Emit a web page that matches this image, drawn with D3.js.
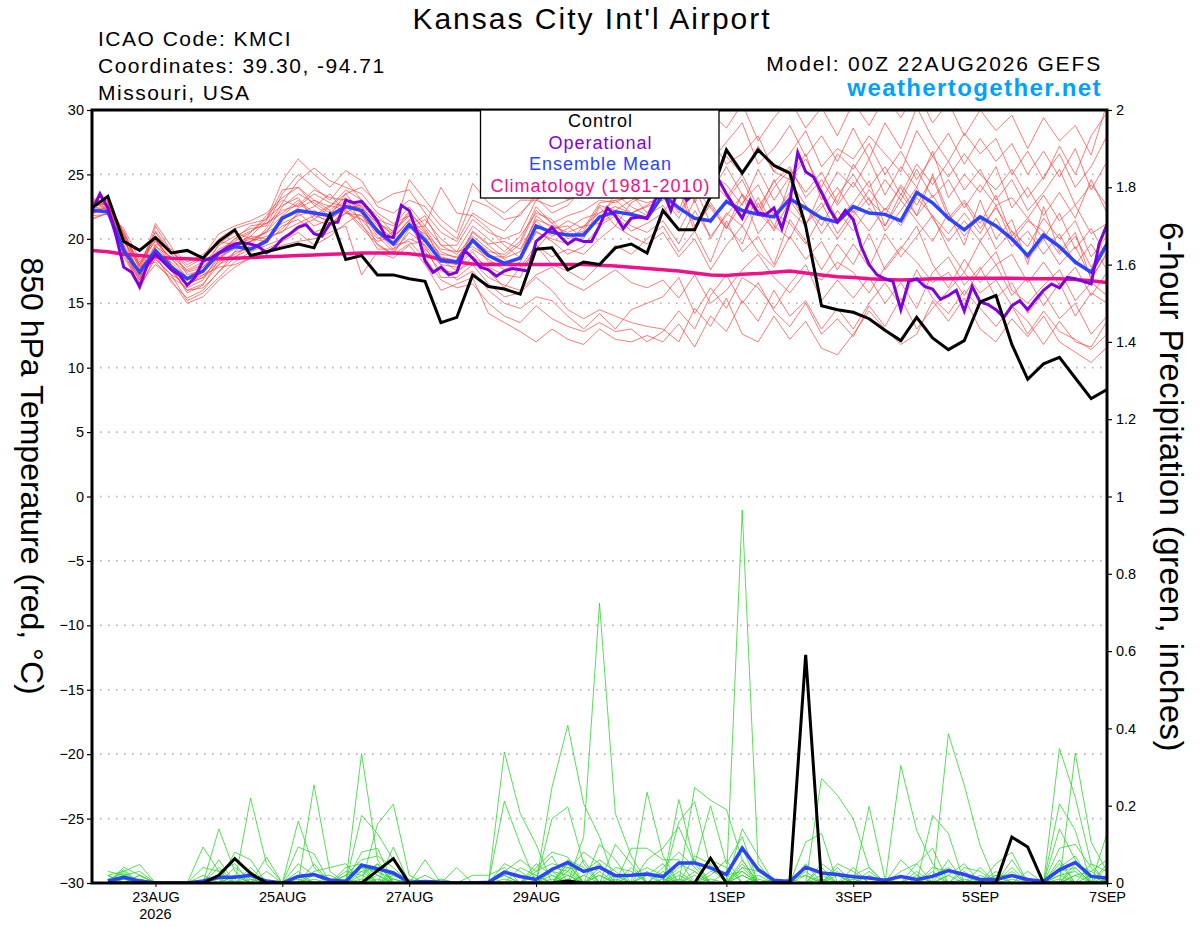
<!DOCTYPE html>
<html>
<head>
<meta charset="utf-8">
<script src="https://d3js.org/d3.v7.min.js"></script>
<style>
  body { margin: 0; background: #fff; }
  svg text { font-family: "Liberation Sans", Arial, Helvetica, sans-serif; }
</style>
</head>
<body>
<svg id="drawing_region"></svg>
<script>
// 6-hourly steps from 00Z 22AUG2026 (index 0) to 00Z 07SEP2026 (index 64)
const startTime = Date.UTC(2026, 7, 22, 0);
const stepHours = 6;

// x axis ticks
const dateTicks = ["2026-08-23", "2026-08-25", "2026-08-27", "2026-08-29", "2026-09-01", "2026-09-03", "2026-09-05", "2026-09-07"];
const dateLabels = ["23AUG", "25AUG", "27AUG", "29AUG", "1SEP", "3SEP", "5SEP", "7SEP"];
const tempTicks = [-30, -25, -20, -15, -10, -5, 0, 5, 10, 15, 20, 25, 30];
const precipTicks = [0, 0.2, 0.4, 0.6, 0.8, 1, 1.2, 1.4, 1.6, 1.8, 2];

const legendNames = ["Control", "Operational", "Ensemble Mean", "Climatology (1981-2010)"];
const legendColors = ["#000000", "#8000e0", "#2a44ff", "#f0118a"];

// 850 hPa temperature, control run (6-hourly)
const controlTemp = [
  22.4, 23.3, 19.8, 19.1, 20.1, 18.9, 19.1, 18.5, 19.8, 20.7, 18.7, 19.0,
  19.3, 19.6, 19.3, 21.9, 18.4, 18.7, 17.2, 17.2, 16.9, 16.7, 13.5, 13.9,
  17.2, 16.3, 16.1, 15.7, 19.2, 19.3, 17.6, 18.2, 18.0, 19.3, 19.6, 18.9,
  22.2, 20.7, 20.7, 23.3, 26.9, 25.1, 26.9, 25.7, 25.1, 21.0, 14.8, 14.5,
  14.3, 13.8, 12.9, 12.1, 13.9, 12.3, 11.4, 12.1, 15.1, 15.6, 11.8, 9.1,
  10.3, 10.8, 9.2, 7.6, 8.3
];

// operational run (3-hourly)
const operTemp = [
  22.2, 23.5, 22.4, 20.3, 17.8, 17.4, 16.3, 18.0, 18.8, 18.2, 17.6, 17.2,
  16.4, 17.0, 18.3, 18.5, 18.9, 19.3, 19.6, 19.7, 19.6, 19.4, 18.9, 19.3,
  20.0, 20.4, 20.9, 21.1, 20.4, 20.2, 21.2, 21.3, 23.0, 22.8, 22.9, 22.2,
  21.4, 20.2, 20.1, 22.6, 22.2, 20.5, 18.3, 17.4, 17.8, 17.2, 17.4, 19.1,
  18.5, 17.8, 17.6, 17.1, 17.5, 17.7, 17.6, 17.5, 19.8, 20.3, 20.9, 20.2,
  19.6, 20.0, 19.8, 19.8, 21.0, 22.4, 21.8, 20.8, 21.6, 21.7, 21.6, 23.0,
  23.8, 22.2, 24.0, 23.0, 23.5, 24.0, 25.1, 24.6, 23.5, 22.5, 21.6, 23.0,
  22.0, 21.9, 22.4, 20.8, 22.9, 26.7, 25.2, 24.8, 23.6, 22.3, 21.3, 22.2,
  21.5, 19.4, 18.0, 17.2, 16.9, 16.7, 14.5, 16.7, 16.9, 16.3, 16.1, 15.3,
  15.6, 16.0, 14.4, 16.3, 15.1, 14.9, 14.5, 13.9, 14.8, 15.2, 14.5, 15.3,
  16.0, 16.5, 16.2, 17.0, 16.9, 16.7, 16.5, 19.6, 21.1
];

const meanTemp = [
  22.2, 22.1, 19.1, 17.4, 19.1, 17.8, 16.9, 17.5, 18.9, 19.4, 19.2, 19.8,
  21.6, 22.2, 22.0, 21.8, 22.5, 22.2, 20.6, 19.6, 21.1, 19.9, 18.3, 18.2,
  19.9, 18.7, 18.1, 18.5, 21.0, 20.5, 20.3, 20.3, 21.7, 22.1, 21.9, 21.6,
  23.4, 22.4, 21.6, 21.4, 22.9, 22.2, 21.9, 21.7, 23.1, 22.4, 21.6, 21.3,
  22.5, 22.0, 21.9, 21.4, 23.6, 22.8, 21.6, 20.7, 21.7, 21.0, 20.0, 18.7,
  20.3, 19.4, 18.2, 17.4, 19.6
];

const climoTemp = [
  19.1, 19.0, 18.8, 18.7, 18.6, 18.5, 18.45, 18.4, 18.45, 18.5, 18.55, 18.6,
  18.65, 18.7, 18.75, 18.8, 18.85, 18.9, 18.9, 18.9, 18.85, 18.7, 18.4, 18.2,
  18.05, 18.0, 18.0, 18.0, 18.0, 18.0, 18.0, 18.0, 17.95, 17.9, 17.8, 17.7,
  17.6, 17.5, 17.35, 17.2, 17.15, 17.25, 17.3, 17.4, 17.5, 17.35, 17.2, 17.05,
  17.0, 16.9, 16.85, 16.8, 16.85, 16.9, 16.9, 16.95, 16.95, 16.95, 16.95, 16.9,
  16.9, 16.9, 16.85, 16.75, 16.6
];

// ensemble member temperatures (6-hourly)
const member01 = [22.0,22.5,20.0,17.0,19.5,18.0,16.5,17.0,18.5,19.5,20.0,20.5, 22.5,23.5,22.8,22.0,23.0,22.5,21.0,20.0,21.5,20.5,18.5,18.0, 20.5,19.5,18.5,19.0,21.5,21.0,20.5,21.0,22.0,22.5,22.0,22.5, 23.0,24.2,21.0,22.6,20.8,23.5,22.0,24.6,22.2,21.0,23.8,21.5, 22.8,24.5,21.0,23.5,21.8,25.0,22.0,19.5,23.0,20.0,21.5,18.0, 22.5,19.0,20.5,16.8,19.0];
const member02 = [22.8,23.0,19.0,16.2,18.5,17.2,15.2,15.8,17.0,18.2,19.0,19.5, 20.0,21.0,21.5,22.5,23.5,22.0,20.2,19.0,20.5,19.5,17.0,17.0, 18.0,16.5,15.5,15.8,17.0,16.0,14.5,13.8,14.5,14.0,13.5,13.2, 13.0,12.0,14.6,13.2,15.4,12.6,12.0,14.0,12.2,13.6,11.5,11.0, 12.6,14.4,13.0,11.8,12.6,15.2,13.6,15.4,13.0,12.0,13.8,12.4, 14.0,12.0,11.2,10.4,11.6];
const member03 = [21.6,22.0,20.5,18.0,20.5,18.8,17.5,18.0,19.5,20.2,20.8,21.0, 23.5,25.0,24.0,23.0,24.5,23.0,21.5,21.0,22.5,21.0,19.5,19.5, 21.5,20.5,20.0,20.5,23.0,22.5,23.0,23.5,24.0,25.5,25.0,26.0, 27.0,25.0,28.0,26.0,27.5,29.0,25.8,27.0,28.8,26.4,28.0,26.0, 28.6,26.2,29.0,27.0,30.2,27.8,26.0,28.2,26.6,27.8,25.0,26.8, 24.6,27.2,25.0,28.0,29.8];
const member04 = [23.0,22.2,19.5,17.5,19.0,17.5,16.0,16.5,18.0,19.0,19.2,20.0, 21.0,21.5,20.5,21.0,22.0,22.8,21.8,20.5,21.8,19.2,18.0,17.8, 19.0,17.5,16.2,17.8,19.5,18.0,17.5,16.8,18.0,19.5,18.8,20.0, 21.0,19.0,20.6,18.2,21.4,19.0,20.2,18.0,21.5,19.8,17.6,19.6, 18.0,20.4,17.6,19.2,21.0,18.0,16.2,18.4,16.6,18.0,15.6,17.0, 14.8,16.6,14.0,15.8,15.0];
const member05 = [22.2,22.8,18.8,16.8,21.0,19.0,17.8,18.5,20.0,20.8,21.2,21.5, 24.5,26.2,25.0,24.0,25.3,24.5,22.5,22.0,23.0,22.5,21.0,20.0, 23.0,22.5,21.5,21.8,23.5,24.0,23.0,24.5,25.5,26.8,26.0,27.0, 28.0,29.6,27.0,29.8,28.6,30.5,27.6,29.4,30.8,28.6,30.2,28.0, 30.6,28.8,31.0,29.4,31.5,29.0,30.6,28.0,30.0,28.4,29.6,27.0, 29.4,27.6,28.8,26.5,30.5];
const member06 = [21.8,21.9,19.8,17.8,18.2,16.8,15.0,15.5,16.8,17.8,18.5,19.0, 19.5,19.8,20.0,20.5,21.0,17.2,19.0,18.5,19.5,18.0,16.0,16.5, 17.0,14.2,13.5,12.8,12.0,13.0,12.2,11.8,13.0,12.2,12.0,12.5, 12.0,13.4,11.6,14.0,12.8,15.2,13.6,16.0,14.0,15.2,13.0,14.6, 13.0,15.0,16.6,14.8,17.6,15.4,14.2,16.0,14.6,13.2,14.8,12.6, 14.4,12.8,12.2,11.4,12.6];
const member07 = [22.5,23.2,20.2,18.2,19.8,18.5,17.0,17.8,19.2,19.8,20.5,21.8, 23.0,22.5,23.5,22.8,22.5,21.5,20.0,20.5,22.0,20.8,19.0,18.5, 20.0,19.0,18.8,19.8,22.5,21.2,21.8,22.2,23.0,22.8,23.5,22.0, 23.8,22.0,24.0,21.2,23.0,24.6,22.0,20.8,24.5,22.6,21.0,23.4, 25.0,23.0,21.8,24.2,22.6,24.8,21.6,23.0,21.2,23.4,20.2,21.6, 20.0,22.0,19.2,20.8,18.6];
const member08 = [23.2,22.6,18.6,16.5,18.0,17.0,16.2,16.8,18.8,20.0,21.0,21.2, 22.0,23.0,22.0,21.2,22.0,21.8,20.5,19.2,20.0,19.5,18.0,16.8, 17.5,16.0,15.0,14.6,15.5,15.2,14.0,13.0,14.2,13.0,14.5,15.0, 15.5,17.0,14.2,16.2,14.6,17.0,16.2,14.6,16.5,18.0,15.2,16.8, 15.4,17.0,15.0,16.6,14.6,17.4,18.6,16.4,17.8,15.4,16.6,14.2, 15.8,13.8,15.0,12.6,14.0];
const member09 = [22.0,22.3,19.2,17.2,19.6,19.2,18.2,18.8,19.8,19.5,19.8,20.2, 20.5,22.0,21.0,21.5,22.8,22.0,19.5,18.8,20.8,21.5,20.0,19.0, 21.0,20.0,19.0,20.2,22.0,21.5,20.0,20.5,21.5,23.5,22.5,21.8, 22.6,20.6,23.0,20.0,22.0,21.0,23.2,21.0,20.0,22.6,20.4,22.2, 20.6,22.4,21.0,23.0,21.4,19.8,22.0,20.2,21.8,19.2,20.6,18.4, 20.0,18.0,19.4,17.0,18.8];
const member10 = [21.5,22.0,20.8,18.4,20.0,17.8,16.4,17.2,18.2,18.8,19.5,20.8, 22.8,24.5,25.5,24.5,24.0,23.5,22.0,21.2,21.8,20.0,18.8,18.6, 19.8,18.2,18.0,18.6,21.8,20.8,21.0,20.0,22.5,21.0,22.8,23.5, 24.5,26.6,23.0,25.0,24.2,22.6,25.4,23.0,24.8,26.6,23.0,25.2, 24.0,26.2,23.4,25.6,24.0,26.8,23.2,25.0,23.6,25.6,22.4,24.0, 21.8,23.6,21.6,24.6,22.0];
const member11 = [22.4,22.9,19.6,16.0,18.8,16.6,15.4,16.0,17.5,18.5,19.8,20.5, 21.2,21.8,22.2,21.6,22.3,21.0,19.8,20.2,21.2,19.0,17.5,17.4, 18.6,17.8,17.2,17.0,19.5,18.6,19.2,18.8,20.0,21.0,20.2,19.6, 20.5,18.6,20.0,17.6,19.5,21.0,19.0,17.8,20.2,18.4,19.8,17.6, 19.6,17.8,20.4,18.6,20.2,21.8,19.2,17.4,19.8,18.0,18.8,16.6, 18.2,16.4,17.8,15.6,17.4];
const member12 = [22.9,23.1,20.4,17.6,21.2,19.4,17.2,17.6,18.6,19.2,20.2,21.4, 23.8,24.0,23.0,22.5,23.8,23.0,21.2,20.6,24.6,23.0,21.5,20.5, 24.3,22.8,22.0,23.0,23.0,23.8,24.0,23.6,24.8,24.0,25.2,24.5, 25.5,27.6,26.0,27.8,25.8,26.6,28.0,25.2,26.6,28.4,25.6,27.0, 26.2,28.0,26.6,25.2,28.4,26.4,28.2,25.8,27.8,26.0,27.4,25.0, 26.8,24.8,27.0,23.8,26.0];
const member13 = [22.1,22.4,19.0,17.0,18.6,18.2,17.0,17.5,19.6,20.5,20.0,19.8, 20.8,22.0,22.5,23.5,22.0,21.5,20.8,19.5,19.8,18.5,16.8,16.2, 16.5,15.0,14.0,13.5,14.8,13.8,13.2,12.8,13.5,12.8,13.0,12.0, 12.8,14.4,13.0,15.6,17.2,15.0,16.6,14.4,13.2,15.0,12.6,13.8, 12.4,14.8,13.2,15.4,13.0,14.6,16.0,17.4,15.8,16.8,14.8,13.6, 11.8,13.6,12.0,11.6,13.6];
const member14 = [22.6,22.0,19.9,18.0,20.2,18.0,16.8,17.2,17.8,18.0,18.5,19.2, 19.8,20.5,19.5,20.2,21.2,22.0,20.6,19.8,20.8,21.0,24.0,22.0, 21.8,20.8,19.5,18.5,20.5,20.0,19.6,21.0,21.2,22.0,21.0,20.5, 21.4,19.6,22.2,20.2,21.8,23.4,20.4,22.0,21.2,19.6,21.8,20.0, 21.8,23.2,20.6,22.2,24.0,21.6,19.8,21.4,19.8,21.6,19.4,20.6, 18.8,20.4,18.0,19.6,17.6];
const member15 = [21.9,22.6,20.6,17.8,19.0,17.6,16.0,16.2,17.4,19.0,20.5,21.6, 22.6,23.2,21.5,21.0,22.4,22.6,21.4,20.2,21.4,20.2,18.2,18.0, 19.2,18.4,17.6,18.2,20.6,19.8,18.8,19.4,21.0,21.8,20.6,21.2, 22.0,23.8,20.6,22.8,21.0,19.6,22.8,20.6,23.0,21.2,22.8,20.4, 22.2,20.6,22.4,21.0,23.2,21.8,20.4,22.0,20.4,22.6,19.8,21.4, 20.6,18.8,20.2,17.8,19.8];
const member16 = [22.7,23.0,19.4,16.6,19.4,18.6,17.6,18.2,19.0,19.6,20.2,20.0, 21.5,22.4,23.0,22.2,23.2,21.2,19.2,19.2,21.0,21.8,19.5,18.8, 20.2,19.2,18.4,17.6,19.2,20.6,21.4,20.8,22.8,23.0,22.0,22.6, 23.4,25.4,22.8,24.6,23.2,25.0,22.4,24.4,25.6,23.2,24.6,22.6, 24.4,22.6,24.6,23.0,25.4,23.2,24.6,22.4,24.2,22.6,23.2,21.6, 23.4,21.4,22.6,20.4,21.2];
const member17 = [22.3,22.1,18.9,17.4,20.6,19.0,18.0,18.6,20.4,21.0,21.4,22.0, 23.2,24.0,22.6,21.8,23.5,24.0,22.8,23.5,23.8,22.0,20.5,19.8, 22.0,21.2,20.6,22.0,23.2,22.0,22.6,24.0,23.6,24.6,24.2,25.0, 26.0,24.4,26.6,24.8,26.4,25.0,27.2,25.2,24.6,26.2,24.0,26.6, 25.4,27.4,25.0,26.8,24.6,26.4,24.8,26.6,25.0,23.8,25.4,23.2, 24.8,26.6,24.0,25.6,28.0];
const member18 = [22.0,22.7,20.1,17.2,18.4,17.2,16.5,17.0,18.0,18.6,19.2,20.0, 20.6,21.2,21.8,22.6,22.2,20.8,19.6,18.8,19.6,19.8,18.4,17.5, 18.2,17.0,16.4,16.0,17.2,17.8,16.6,16.0,16.8,17.6,16.6,16.2, 16.8,15.4,17.2,15.0,16.0,17.6,18.8,17.0,15.8,17.4,16.8,18.2, 17.4,15.8,17.8,19.4,18.2,16.6,17.4,15.6,17.6,19.0,16.0,15.0, 16.4,17.6,15.2,16.6,15.6];
const member19 = [23.1,22.5,19.3,16.8,19.2,17.8,15.8,16.4,18.4,19.4,19.8,20.6, 21.8,22.8,21.8,21.4,22.6,22.4,21.2,20.4,22.2,20.6,18.6,18.3, 20.6,19.6,19.8,19.2,21.4,20.2,20.8,21.6,22.0,23.0,23.2,22.8, 23.2,21.6,24.0,22.4,20.8,22.8,24.2,21.8,23.6,21.2,22.4,24.0, 22.0,23.8,22.2,24.0,21.8,23.4,21.4,22.8,20.8,22.4,20.6,19.4, 21.6,20.0,21.4,18.6,20.2];
const member20 = [22.5,22.8,20.3,17.9,19.9,18.4,17.4,17.8,19.0,20.0,20.6,21.2, 22.2,22.6,23.8,23.2,23.0,22.2,20.4,19.6,21.0,20.4,19.2,19.0, 19.4,18.6,18.6,19.6,22.2,21.2,20.2,20.6,22.6,22.2,23.0,23.6, 24.0,22.2,25.2,23.6,25.6,23.4,21.8,24.0,25.4,23.6,25.2,22.8, 25.8,24.0,25.6,23.4,25.8,24.2,26.0,23.8,25.4,23.0,24.6,22.2, 23.6,25.4,22.6,24.2,22.6];
const memberTemps = [member01, member02, member03, member04, member05, member06, member07, member08, member09, member10,
                     member11, member12, member13, member14, member15, member16, member17, member18, member19, member20];

// 6-hour precipitation (inches), valid at steps 1..64
const controlPrecip = [
  0, 0, 0, 0, 0, 0, 0, .02,   .063, .025, 0, 0, 0, 0, 0, 0,
  0, .032, .063, 0, 0, 0, 0, 0,   0, 0, 0, 0, 0, .005, 0, 0,
  0, 0, 0, 0, 0, 0, .064, 0,   0, 0, 0, 0, .59, 0, 0, 0,
  0, 0, 0, 0, 0, 0, 0, 0,   0, .119, .093, 0, 0, 0, 0, 0
];
const meanPrecip = [
  .005, .015, .005, 0, 0, 0, .005, .015,   .015, .02, .005, 0, .017, .022, .008, .004,
  .046, .037, .026, .002, .004, .002, 0, 0,   .002, .028, .017, .009, .035, .053, .03, .041,
  .019, .02, .023, .016, .052, .052, .039, .022,   .09, .035, .007, .004, .041, .026, .022, .016,
  .013, .007, .017, .009, .017, .032, .022, .009,   .009, .019, .009, .004, .034, .053, .017, .013
];
const precip01 = [0,.041,.02,0,0,0,0,0, 0,.22,.05,0,0,0,0,0, .335,.06,0,0,0,0,0,0, 0,.339,.18,.10,0,.05,0,0, 0,0,0,0,0,0,0,0, .965,.05,0,0,0,0,0,0, 0,0,0,0,0,.386,.253,.097, 0,0,0,0,.06,0,0,0];
const precip02 = [.02,.03,.048,0,0,0,0,.14, .03,0,0,0,0,.254,.03,0, 0,.152,.204,.02,0,0,0,0, 0,0,0,0,.247,.408,.205,.12, 0,0,0,0,.216,.05,0,0, 0,0,0,0,0,.27,.227,.166, .04,0,0,0,0,0,0,0, 0,0,0,0,.348,.222,.05,0];
const precip03 = [0,.035,0,0,0,0,.093,.03, 0,0,0,0,.16,.04,0,0, .175,.128,.06,0,0,0,0,0, 0,.212,.10,0,0,0,.12,.724, .18,.07,0,0,0,.247,.214,.19, .06,0,0,0,0,0,0,0, 0,0,.304,.136,.05,0,0,0, 0,0,0,0,0,.336,.106,.03];
const precip04 = [.01,.025,0,0,0,0,0,0, .08,.06,0,0,.093,.076,0,0, .08,.09,0,0,.06,0,0,0, 0,0,0,0,.166,.197,.05,0, 0,0,.235,.07,0,0,0,0, 0,0,0,0,.106,.128,0,0, .198,.01,0,0,.175,.128,0,0, 0,0,0,0,.205,.136,0,.128];
const precip05 = [0,.02,.03,0,0,0,0,.06, 0,.04,0,0,0,0,0,.04, .05,0,.093,0,0,0,.04,0, 0,0,0,.04,.08,.067,0,0, .10,.05,0,0,.158,.21,.04,0, .14,.07,0,0,0,0,.05,.03, 0,0,0,.05,.09,0,0,0, .05,.08,0,0,.14,.06,0,0];
const precip06 = [.03,.02,0,0,0,0,0,0, 0,0,.067,0,0,0,0,.02, .06,.07,.04,0,0,0,0,0, 0,0,0,.03,.07,0,0,.10, .06,0,.06,.09,.145,.05,.20,.05, .12,0,0,0,.04,.03,0,0, 0,0,0,0,0,0,.04,.03, 0,.06,0,0,0,0,.05,.03];
const precip07 = [0,0,.02,0,0,0,.04,.03, .05,0,0,0,0,.03,.04,.05, 0,.05,0,0,0,0,0,.02, .02,.04,0,0,0,.03,.08,.05, 0,.09,.09,.06,.06,0,0,.03, .09,0,0,.01,.02,0,0,0, 0,0,.06,.02,0,0,0,0, .03,0,.03,0,.09,.10,.04,0];
const precip08 = [0,.015,0,0,0,0,0,0, 0,0,0,0,.05,.02,0,0, .03,.04,.02,0,0,.01,0,0, 0,.03,.06,.03,.05,.04,.03,.06, .03,0,0,.04,.08,.04,0,0, .05,0,.01,0,0,0,0,.02, .04,0,0,0,0,.06,0,.02, 0,0,0,0,.04,.07,0,.05];
const precip09 = [0,.02,0,0,0,0,0,.02, 0,.03,0,0,0,0,0,.03, .02,0,0,.01,0,0,0,0, 0,0,0,0,.03,.02,0,.04, .02,0,.03,0,0,.07,.05,0, .04,.03,0,0,0,.05,.02,0, 0,0,0,0,.04,.03,.02,0, 0,.04,0,0,0,.05,.03,.06];
const precip10 = [.01,0,.01,0,0,0,0,0, .02,0,.03,0,0,.05,0,0, .04,.03,.01,0,0,0,0,0, 0,0,.04,.02,0,.06,.04,0, 0,.02,.04,.02,0,0,.03,.02, .03,0,0,0,.03,0,.02,0, 0,0,.03,.05,0,0,.03,0, .02,0,0,0,.03,.04,0,.02];
const precip11 = [0,.03,0,0,0,0,0,.01, 0,0,0,0,.02,0,0,0, .02,.05,0,0,0,0,0,0, 0,.02,0,0,.04,.03,0,.02, 0,0,0,0,.05,.03,0,0, .02,0,0,0,0,.04,0,0, .03,0,0,0,.02,.04,0,0, 0,.03,0,0,.02,.03,0,0];
const precip12 = [.02,0,.02,0,0,0,0,0, .04,.01,0,0,0,0,0,.02, .03,0,.03,0,0,0,0,0, 0,0,0,.05,.02,0,.06,0, .04,.03,0,0,.03,0,.06,.04, 0,.02,0,0,.05,0,0,.04, 0,0,0,.03,0,0,0,.04, 0,0,0,0,0,.02,.03,0];
const precip13 = [0,.01,0,0,0,0,.02,0, 0,0,0,0,0,.02,.02,0, 0,.02,0,0,0,0,0,0, 0,.05,.03,0,0,.04,0,.03, 0,0,.02,.05,0,.02,0,0, .06,0,0,.01,0,0,.03,0, 0,.01,0,0,0,.02,.05,0, 0,0,0,0,.05,0,0,.04];
const precip14 = [0,.02,0,0,0,0,0,.04, 0,.02,0,0,0,0,0,0, .05,.02,0,0,.02,0,0,0, 0,0,0,0,.03,0,.02,.05, 0,.04,0,0,.04,.06,0,0, .03,0,0,0,0,.02,0,0, 0,0,.02,0,.03,0,0,0, .02,.02,0,0,0,.04,0,0];
const precip15 = [.02,0,0,0,0,0,0,0, 0,0,0,0,.03,0,0,.01, 0,0,.02,0,0,0,0,0, 0,.02,0,.02,0,.05,0,0, .02,0,0,.03,0,0,.02,.06, 0,.01,0,0,0,0,.04,0, 0,0,0,.02,0,.02,0,0, 0,0,0,0,.03,0,.02,0];
const precip16 = [0,0,.01,0,0,0,0,0, .02,0,0,0,0,0,0,0, .04,0,0,0,0,0,0,0, 0,0,0,0,.02,0,0,.02, 0,0,0,0,.02,0,0,0, .02,0,0,0,0,0,0,0, .02,0,0,0,0,0,0,0, 0,0,0,0,.02,0,0,0];
const precip17 = [0,.01,0,0,0,0,0,0, 0,0,0,0,0,.01,0,0, 0,.03,0,0,0,0,0,0, 0,0,0,0,0,.02,0,0, 0,0,.02,0,0,.03,0,0, 0,0,0,0,.02,0,0,0, 0,0,0,0,.02,0,0,0, 0,0,0,0,0,.02,0,0];
const precip18 = [0,0,0,0,0,0,0,0, 0,.01,0,0,0,0,0,0, .01,0,0,0,0,0,0,0, 0,.01,0,0,0,0,.02,0, 0,0,0,.01,0,0,0,0, .04,0,0,0,0,0,0,0, 0,0,0,0,0,0,.01,0, 0,0,0,0,0,0,0,.01];
const precip19 = [0,.02,0,0,0,0,0,0, 0,0,0,0,0,0,0,0, 0,0,.01,0,0,0,0,0, 0,0,0,0,.01,0,0,0, .01,0,0,0,0,0,.01,0, 0,0,0,0,0,.01,0,0, 0,0,0,0,0,0,0,0, 0,.01,0,0,0,0,0,0];
const precip20 = [0,0,0,0,0,0,0,0, 0,0,0,0,.01,0,0,0, 0,.01,0,0,0,0,0,0, 0,0,0,0,0,.01,0,0, 0,0,0,0,.01,0,0,0, 0,0,0,0,0,0,0,.01, 0,0,0,0,0,0,0,0, 0,0,0,0,.01,0,0,0];
const memberPrecips = [precip01, precip02, precip03, precip04, precip05, precip06, precip07, precip08, precip09, precip10,
                       precip11, precip12, precip13, precip14, precip15, precip16, precip17, precip18, precip19, precip20];

class EnsemblePlot {

    constructor( config ) {
        this.config = {
            parent: config.parent,
            width: config.width || 1200,
            height: config.height || 927,
            margin: config.margin || {top:110, right:93, bottom:44, left:92}
        };
        this.init();
    }

    init() {
        let self = this;

        self.svg = d3.select( self.config.parent )
            .attr('width', self.config.width)
            .attr('height', self.config.height);

        self.inner_width = self.config.width - self.config.margin.left - self.config.margin.right;
        self.inner_height = self.config.height - self.config.margin.top - self.config.margin.bottom;

        self.xscale = d3.scaleUtc()
            .domain( [new Date(startTime), new Date(startTime + 64 * stepHours * 3600e3)] )
            .range( [0, self.inner_width] );

        self.yscale = d3.scaleLinear()
            .domain( [-30, 30] )
            .range( [self.inner_height, 0] );

        self.pscale = d3.scaleLinear()
            .domain( [0, 2] )
            .range( [self.inner_height, 0] );

        self.svg.append('defs').append('clipPath')
            .attr('id', 'plot_clip')
            .append('rect')
            .attr('width', self.inner_width)
            .attr('height', self.inner_height);

        self.chart = self.svg.append('g')
            .attr('transform', `translate(${self.config.margin.left}, ${self.config.margin.top})`);
    }

    timeAt( k, hours ) {
        return new Date(startTime + k * hours * 3600e3);
    }

    render() {
        let self = this;

        // dotted grid
        self.chart.append('g')
            .selectAll('line')
            .data(tempTicks.filter(d => d > -30 && d < 30))
            .join('line')
            .attr('x1', 0)
            .attr('x2', self.inner_width)
            .attr('y1', d => self.yscale(d))
            .attr('y2', d => self.yscale(d))
            .attr('stroke', '#b4b4b4')
            .attr('stroke-width', 1.6)
            .attr('stroke-dasharray', '1.6,6.4');

        const plot = self.chart.append('g').attr('clip-path', 'url(#plot_clip)');

        const tline = (hours) => d3.line()
            .x( (d, k) => self.xscale(self.timeAt(k, hours)) )
            .y( d => self.yscale(d) );
        const pline = d3.line()
            .x( (d, k) => self.xscale(self.timeAt(k + 1, stepHours)) )
            .y( d => self.pscale(d) );

        plot.append('g')
            .selectAll('path')
            .data(memberTemps)
            .join('path')
            .attr('d', tline(stepHours))
            .attr('fill', 'none')
            .attr('stroke', '#ff3c3c')
            .attr('stroke-opacity', 0.85)
            .attr('stroke-width', 0.8);

        plot.append('g')
            .selectAll('path')
            .data(memberPrecips)
            .join('path')
            .attr('d', pline)
            .attr('fill', 'none')
            .attr('stroke', '#2ad82a')
            .attr('stroke-width', 0.8);

        plot.append('path')
            .attr('d', pline(meanPrecip))
            .attr('fill', 'none')
            .attr('stroke', legendColors[2])
            .attr('stroke-width', 3.5);

        plot.append('path')
            .attr('d', pline(controlPrecip))
            .attr('fill', 'none')
            .attr('stroke', legendColors[0])
            .attr('stroke-width', 3);

        plot.append('path')
            .attr('d', tline(stepHours)(climoTemp))
            .attr('fill', 'none')
            .attr('stroke', legendColors[3])
            .attr('stroke-width', 3.5);

        plot.append('path')
            .attr('d', tline(stepHours)(meanTemp))
            .attr('fill', 'none')
            .attr('stroke', legendColors[2])
            .attr('stroke-width', 3.5);

        plot.append('path')
            .attr('d', tline(3)(operTemp))
            .attr('fill', 'none')
            .attr('stroke', legendColors[1])
            .attr('stroke-width', 3);

        plot.append('path')
            .attr('d', tline(stepHours)(controlTemp))
            .attr('fill', 'none')
            .attr('stroke', legendColors[0])
            .attr('stroke-width', 3);

        // axes
        const tickFont = g => g.selectAll('text')
            .attr('font-size', '14.5px')
            .attr('font-family', '"Liberation Sans", Arial, sans-serif')
            .attr('fill', '#000');

        self.chart.append('g')
            .call( d3.axisLeft(self.yscale).tickValues(tempTicks).tickSize(5).tickPadding(3).tickFormat(d3.format('d')) )
            .call( g => g.select('.domain').remove() )
            .call( g => g.selectAll('line').attr('stroke-width', 1.2) )
            .call( tickFont );

        self.chart.append('g')
            .attr('transform', `translate(${self.inner_width}, 0)`)
            .call( d3.axisRight(self.pscale).tickValues(precipTicks).tickSize(5).tickPadding(4).tickFormat(d => String(d)) )
            .call( g => g.select('.domain').remove() )
            .call( g => g.selectAll('line').attr('stroke-width', 1.2) )
            .call( tickFont );

        self.chart.append('g')
            .attr('transform', `translate(0, ${self.inner_height})`)
            .call( d3.axisBottom(self.xscale).tickValues(dateTicks.map(d => new Date(d + 'T00:00:00Z'))).tickSize(4).tickPadding(5)
                .tickFormat( (d, k) => dateLabels[k] ) )
            .call( g => g.select('.domain').remove() )
            .call( tickFont );

        self.chart.append('text')
            .attr('x', self.xscale(new Date(dateTicks[0] + 'T00:00:00Z')))
            .attr('y', self.inner_height + 36)
            .attr('text-anchor', 'middle')
            .attr('font-size', '14.5px')
            .text('2026');

        // frame
        self.chart.append('rect')
            .attr('width', self.inner_width)
            .attr('height', self.inner_height)
            .attr('fill', 'none')
            .attr('stroke', '#000')
            .attr('stroke-width', 3);

        // legend
        const legend = self.chart.append('g')
            .attr('transform', `translate(${388.5}, 0)`);
        legend.append('rect')
            .attr('width', 238.5)
            .attr('height', 88)
            .attr('fill', '#fff')
            .attr('stroke', '#000')
            .attr('stroke-width', 1.3);
        legend.selectAll('text')
            .data(legendNames)
            .join('text')
            .attr('x', 120)
            .attr('y', (d, k) => 17 + k * 21.6)
            .attr('text-anchor', 'middle')
            .attr('font-size', '18px')
            .attr('letter-spacing', '1px')
            .attr('fill', (d, k) => legendColors[k])
            .text(d => d);

        // titles
        self.svg.append('text')
            .attr('x', 592)
            .attr('y', 29)
            .attr('text-anchor', 'middle')
            .attr('font-size', '30px')
            .attr('letter-spacing', '2px')
            .text("Kansas City Int'l Airport");

        const info = ["ICAO Code: KMCI", "Coordinates: 39.30, -94.71", "Missouri, USA"];
        self.svg.append('g')
            .selectAll('text')
            .data(info)
            .join('text')
            .attr('x', 98)
            .attr('y', (d, k) => 46 + k * 27)
            .attr('font-size', '21px')
            .attr('letter-spacing', '1.5px')
            .text(d => d);

        self.svg.append('text')
            .attr('x', 1102)
            .attr('y', 71)
            .attr('text-anchor', 'end')
            .attr('font-size', '21px')
            .attr('letter-spacing', '1.85px')
            .text('Model: 00Z 22AUG2026 GEFS');

        self.svg.append('text')
            .attr('x', 1102)
            .attr('y', 96)
            .attr('text-anchor', 'end')
            .attr('font-size', '24px')
            .attr('font-weight', 'bold')
            .attr('letter-spacing', '1.4px')
            .attr('fill', '#00a2ff')
            .text('weathertogether.net');

        self.svg.append('text')
            .attr('transform', 'translate(21, 476) rotate(90)')
            .attr('text-anchor', 'middle')
            .attr('font-size', '32px')
            .text('850 hPa Temperature (red, \u00B0C)');

        self.svg.append('text')
            .attr('transform', 'translate(1160, 487) rotate(90)')
            .attr('text-anchor', 'middle')
            .attr('font-size', '33px')
            .attr('letter-spacing', '0.4px')
            .text('6-hour Precipitation (green, inches)');
    }
}

const plot = new EnsemblePlot({ parent: '#drawing_region', width: 1200, height: 927,
                                margin: {top:110, right:93, bottom:44, left:92} });
plot.render();
</script>
</body>
</html>
